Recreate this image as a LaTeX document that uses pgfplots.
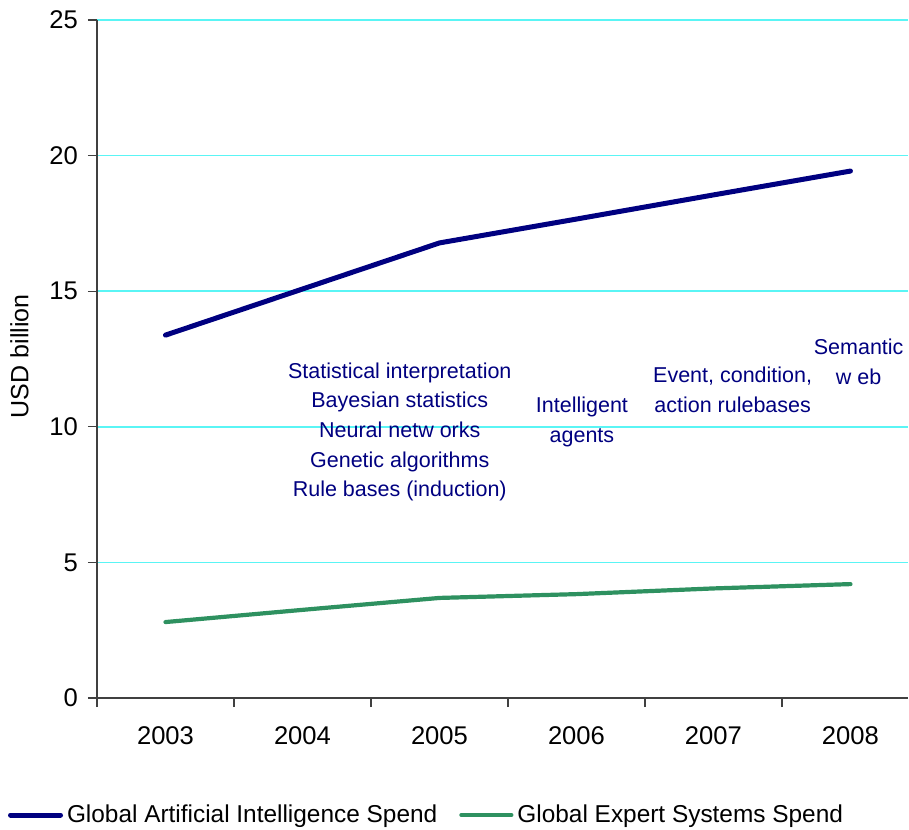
\documentclass[border=0pt]{standalone}
\usepackage{pgfplots}
\pgfplotsset{compat=1.18}
\usepackage{fontspec}
\setmainfont{Liberation Sans}
\definecolor{ainavy}{RGB}{0,0,128}
\definecolor{esgreen}{RGB}{46,145,96}
\definecolor{gridcyan}{RGB}{90,245,245}
\definecolor{axgray}{RGB}{64,64,64}
\begin{document}
\begin{tikzpicture}
\useasboundingbox (-48.5bp,-66bp) rectangle (406bp,349bp);
\begin{axis}[
  scale only axis,
  width=405.5bp, height=339bp,
  xmin=-0.5, xmax=5.42,
  ymin=0, ymax=25,
  ytick={0,5,10,15,20,25},
  xtick={0,1,2,3,4,5},
  xticklabels={2003,2004,2005,2006,2007,2008},
  minor xtick={-0.5,0.5,1.5,2.5,3.5,4.5},
  major x tick style={draw=none},
  tick align=outside,
  major tick length=4.5bp,
  minor tick length=4.5bp,
  axis x line*=bottom,
  axis y line*=left,
  axis line style={axgray, line width=0.75bp, -},
  every tick/.style={axgray, line width=0.6bp},
  ymajorgrids,
  grid style={gridcyan, line width=0.8bp},
  ticklabel style={font=\fontsize{12.8bp}{14bp}\selectfont},
  /pgf/number format/assume math mode=true,
  xticklabel style={yshift=-6.5bp},
  yticklabel style={xshift=-1.5bp},
  ylabel={USD billion},
  ylabel style={font=\fontsize{12.5bp}{14bp}\selectfont, at={(axis description cs:-0.0955,0.504)}, anchor=center},
  clip=false,
  legend columns=2,
  legend style={draw=none, fill=none, at={(axis description cs:0.4075,-0.1726)}, anchor=center,
    font=\fontsize{12.2bp}{14bp}\selectfont,
    /tikz/every even column/.append style={column sep=9bp}},
  legend image code/.code={\draw[#1] (0bp,0bp) -- (25bp,0bp);},
]
\addplot[ainavy, line width=2.5bp, line cap=round, line join=round] coordinates {
  (0,13.38) (1,15.08) (2,16.78) (3,17.66) (4,18.55) (5,19.43)};
\addlegendentry{Global Artificial Intelligence Spend}
\addplot[esgreen, line width=2.1bp, line cap=round, line join=round] coordinates {
  (0,2.80) (1,3.25) (2,3.69) (3,3.83) (4,4.04) (5,4.20)};
\addlegendentry{Global Expert Systems Spend}

\node[ainavy, align=center, font=\fontsize{10.75bp}{14.8bp}\selectfont] at (axis cs:1.71,9.81)
  {Statistical interpretation\\Bayesian statistics\\Neural netw orks\\Genetic algorithms\\Rule bases (induction)};
\node[ainavy, align=center, font=\fontsize{10.75bp}{14.8bp}\selectfont] at (axis cs:3.04,10.18)
  {Intelligent\\agents};
\node[ainavy, align=center, font=\fontsize{10.75bp}{14.8bp}\selectfont] at (axis cs:4.14,11.36)
  {Event, condition,\\action rulebases};
\node[ainavy, align=center, font=\fontsize{10.75bp}{14.8bp}\selectfont] at (axis cs:5.06,12.39)
  {Semantic\\w eb};
\end{axis}
\end{tikzpicture}
\end{document}
